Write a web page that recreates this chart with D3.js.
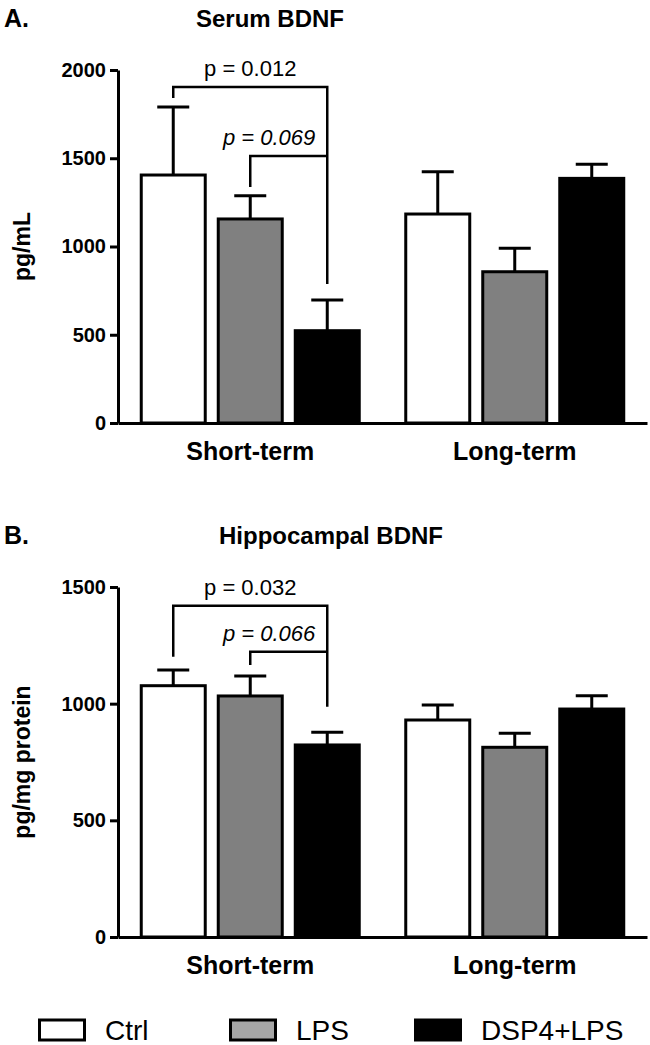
<!DOCTYPE html>
<html><head><meta charset="utf-8">
<script src="https://cdn.jsdelivr.net/npm/d3@7"></script>
<style>body{margin:0;background:#fff}svg{display:block}</style>
</head><body><svg id="c" width="650" height="1045"></svg>
<script>
// ---------- data ----------
const categories = ["Short-term", "Long-term"];
const groups = ["Ctrl", "LPS", "DSP4+LPS"];

// Serum BDNF (pg/mL)
const serumCtrl = [1405, 1184];
const serumLPS = [1156, 857];
const serumDSP4 = [523, 1386];
const serumCtrlErr = [385, 240];
const serumLPSErr = [132, 133];
const serumDSP4Err = [174, 80];
const serumTicks = [0, 500, 1000, 1500, 2000];
// comparisons (Short-term group): from series idx -> to series idx
const serumPLabels = ["p = 0.012", "p = 0.069"];
const serumPItalic = [false, true];
const serumPFrom = [0, 1];
const serumPTo = [2, 2];
const serumPLevel = [1904, 1513];
const serumPLeftEnd = [1841, 1337];
const serumPRightEnd = [788, 1513];

// Hippocampal BDNF (pg/mg protein)
const hipCtrl = [1077, 930];
const hipLPS = [1033, 813];
const hipDSP4 = [823, 977];
const hipCtrlErr = [67, 64];
const hipLPSErr = [86, 60];
const hipDSP4Err = [54, 57];
const hipTicks = [0, 500, 1000, 1500];
const hipPLabels = ["p = 0.032", "p = 0.066"];
const hipPItalic = [false, true];
const hipPFrom = [0, 1];
const hipPTo = [2, 2];
const hipPLevel = [1420, 1223];
const hipPLeftEnd = [1201, 1166];
const hipPRightEnd = [987, 1223];

const barFills = ["#ffffff", "#808080", "#000000"];
const legendFills = ["#ffffff", "#a6a6a6", "#000000"];

// ---------- drawing ----------
const svg = d3.select("#c");
const FONT = "'Liberation Sans', Arial, Helvetica, sans-serif";
const xLeft = 118, xRight = 647;

function panel(cfg) {
  const g = svg.append("g");
  const y = d3.scaleLinear().domain([0, cfg.yMax]).range([cfg.y0, cfg.yTop]);
  const x0 = d3.scaleBand().domain(categories).range([xLeft, xRight]);
  const gw = 221;
  const off = (x0.bandwidth() - gw) / 2;
  const x1 = d3.scaleBand().domain(groups).range([off, off + gw]).paddingInner(0.13);

  // letter & title
  g.append("text").attr("x", 4).attr("y", cfg.titleY).text(cfg.letter)
    .attr("font-family", FONT).attr("font-weight", "bold").attr("font-size", 25);
  g.append("text").attr("x", cfg.titleX).attr("y", cfg.titleY).attr("text-anchor", "middle")
    .text(cfg.title).attr("font-family", FONT).attr("font-weight", "bold").attr("font-size", 24);

  // y label
  g.append("text").attr("transform", `translate(30,${(cfg.y0 + cfg.yTop) / 2}) rotate(-90)`)
    .attr("text-anchor", "middle").text(cfg.yLabel)
    .attr("font-family", FONT).attr("font-weight", "bold").attr("font-size", 23);

  // bars
  const series = cfg.means;
  series.forEach((vals, si) => {
    vals.forEach((v, ci) => {
      const bx = x0(categories[ci]) + x1(groups[si]);
      const bw = x1.bandwidth();
      g.append("rect").attr("x", bx + 1.5).attr("y", y(v))
        .attr("width", bw - 3).attr("height", y(0) - y(v))
        .attr("fill", barFills[si]).attr("stroke", "#000").attr("stroke-width", 3);
      const cx = bx + bw / 2;
      const top = y(v + cfg.errs[si][ci]);
      g.append("line").attr("x1", cx).attr("x2", cx).attr("y1", y(v)).attr("y2", top)
        .attr("stroke", "#000").attr("stroke-width", 3);
      g.append("line").attr("x1", cx - 16).attr("x2", cx + 16).attr("y1", top).attr("y2", top)
        .attr("stroke", "#000").attr("stroke-width", 3);
    });
  });

  // y axis
  const ya = g.append("g").attr("transform", `translate(${xLeft},0)`)
    .call(d3.axisLeft(y).tickValues(cfg.ticks).tickSize(8).tickSizeOuter(0).tickPadding(4).tickFormat(d3.format("d")));
  ya.selectAll("path,line").attr("stroke", "#000").attr("stroke-width", 3);
  ya.selectAll("text").attr("font-family", FONT).attr("font-weight", "bold").attr("font-size", 20).attr("fill", "#000");

  // x axis
  const xa = g.append("g").attr("transform", `translate(0,${cfg.y0})`)
    .call(d3.axisBottom(x0).tickSize(0).tickSizeOuter(0).tickPadding(19));
  xa.select(".domain").attr("stroke", "#000").attr("stroke-width", 3);
  xa.selectAll("text").attr("font-family", FONT).attr("font-weight", "bold").attr("font-size", 25).attr("fill", "#000");

  // comparison brackets
  cfg.pLabels.forEach((lab, i) => {
    const c = categories[0];
    const xa_ = x0(c) + x1(groups[cfg.pFrom[i]]) + x1.bandwidth() / 2;
    const xb_ = x0(c) + x1(groups[cfg.pTo[i]]) + x1.bandwidth() / 2;
    const lvl = y(cfg.pLevel[i]);
    const path = d3.path();
    path.moveTo(xa_, y(cfg.pLeftEnd[i]));
    path.lineTo(xa_, lvl);
    path.lineTo(xb_, lvl);
    path.lineTo(xb_, y(cfg.pRightEnd[i]));
    g.append("path").attr("d", path.toString()).attr("fill", "none")
      .attr("stroke", "#000").attr("stroke-width", 2.5);
    const t = g.append("text").attr("y", lvl - 11).text(lab)
      .attr("font-family", FONT).attr("font-size", 22);
    if (cfg.pItalic[i]) {
      t.attr("x", xb_ - 12).attr("text-anchor", "end").attr("font-style", "italic");
    } else {
      t.attr("x", (xa_ + xb_) / 2).attr("text-anchor", "middle");
    }
  });
}

panel({
  letter: "A.", title: "Serum BDNF", titleX: 270, titleY: 27, yLabel: "pg/mL",
  yMax: 2000, ticks: serumTicks, y0: 423, yTop: 70,
  means: [serumCtrl, serumLPS, serumDSP4], errs: [serumCtrlErr, serumLPSErr, serumDSP4Err],
  pLabels: serumPLabels, pItalic: serumPItalic, pFrom: serumPFrom, pTo: serumPTo,
  pLevel: serumPLevel, pLeftEnd: serumPLeftEnd, pRightEnd: serumPRightEnd
});
panel({
  letter: "B.", title: "Hippocampal BDNF", titleX: 331, titleY: 544, yLabel: "pg/mg protein",
  yMax: 1500, ticks: hipTicks, y0: 937, yTop: 587,
  means: [hipCtrl, hipLPS, hipDSP4], errs: [hipCtrlErr, hipLPSErr, hipDSP4Err],
  pLabels: hipPLabels, pItalic: hipPItalic, pFrom: hipPFrom, pTo: hipPTo,
  pLevel: hipPLevel, pLeftEnd: hipPLeftEnd, pRightEnd: hipPRightEnd
});

// legend
const legX = d3.scaleOrdinal().domain(groups).range([38, 229, 414]);
const lg = svg.append("g");
groups.forEach((gname, i) => {
  const lx = legX(gname);
  lg.append("rect").attr("x", lx + 1.5).attr("y", 1020).attr("width", 45).attr("height", 20)
    .attr("fill", legendFills[i]).attr("stroke", "#000").attr("stroke-width", 3);
  lg.append("text").attr("x", lx + 67).attr("y", 1040).text(gname)
    .attr("font-family", FONT).attr("font-size", 28);
});
</script>
</body></html>
